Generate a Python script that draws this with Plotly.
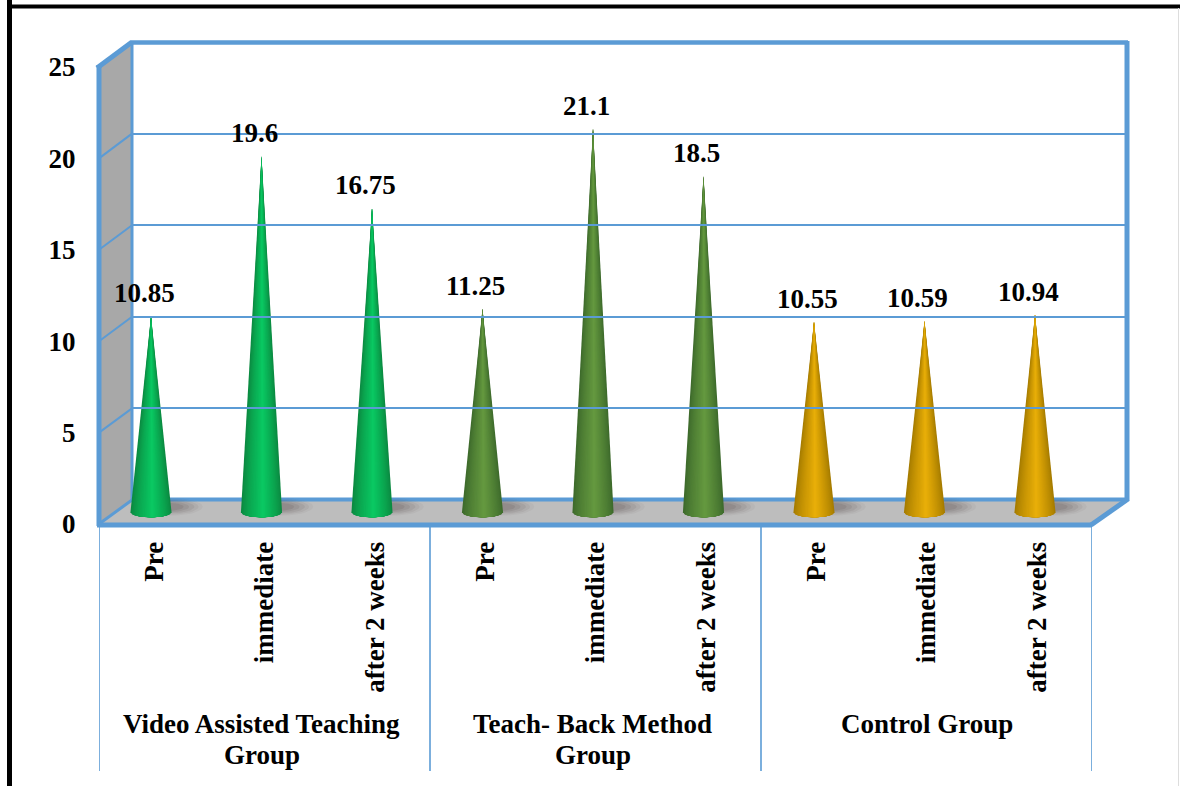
import numpy as np
import plotly.graph_objects as go

# ---- data ----
groups = [["Video Assisted Teaching", "Group"], ["Teach- Back Method", "Group"], ["Control Group"]]
categories = ["Pre", "immediate", "after 2 weeks"] * 3
values = [10.85, 19.6, 16.75, 11.25, 21.1, 18.5, 10.55, 10.59, 10.94]
y_ticks = [0, 5, 10, 15, 20, 25]
group_edge = ["#0b8a41", "#0b8a41", "#0b8a41", "#3e6b2c", "#3e6b2c", "#3e6b2c", "#a67c00", "#a67c00", "#a67c00"]
group_mid = ["#0ac862", "#0ac862", "#0ac862", "#64983f", "#64983f", "#64983f", "#e8ae08", "#e8ae08", "#e8ae08"]

W, H = 1180, 786
BLUE = "#5b9bd5"
FONT = "Liberation Serif"
FS = 27


def fx(px):
    return px / W


def fy(py):
    return 1 - py / H


def mix(a, b, t):
    ca = [int(a[i:i + 2], 16) for i in (1, 3, 5)]
    cb = [int(b[i:i + 2], 16) for i in (1, 3, 5)]
    return "rgb(%d,%d,%d)" % tuple(round(p + (q - p) * t) for p, q in zip(ca, cb))


fig = go.Figure()

# cone geometry, in category / value units of the x2 / y2 axes
HALF_W = 0.186
BASE_Y = 0.12
BASE_H = 0.27
LEVELS = 16

for i, v in enumerate(values):
    # soft floor shadow, thrown to the right of the cone
    for sx, sy, off, a in [(1.6, 0.48, 0.17, 0.05), (1.45, 0.42, 0.16, 0.07), (1.3, 0.36, 0.15, 0.09),
                           (1.15, 0.3, 0.13, 0.10), (1.0, 0.24, 0.11, 0.12)]:
        t = np.linspace(0, 2 * np.pi, 50)
        fig.add_trace(go.Scatter(
            x=i + off + HALF_W * sx * np.cos(t), y=0.42 + sy * np.sin(t),
            xaxis="x2", yaxis="y2", mode="lines", line=dict(width=0),
            fill="toself", fillcolor=f"rgba(70,55,55,{a})", hoverinfo="skip", showlegend=False))
    # cone as nested slivers, shaded from the edge towards a bright centre
    for k in range(LEVELS):
        f = 1 - k / LEVELS
        col = mix(group_edge[i], group_mid[i], (k / (LEVELS - 1)) ** 0.8)
        centre = 0.06 * (1 - f)
        arc = np.linspace(centre - f, centre + f, 24)
        bx = i + HALF_W * arc
        by = BASE_Y - BASE_H * np.sqrt(np.clip(1 - arc ** 2, 0, 1))
        fig.add_trace(go.Scatter(
            x=np.r_[i, bx, i], y=np.r_[v, by, v],
            xaxis="x2", yaxis="y2", mode="lines",
            line=dict(width=0), fill="toself", fillcolor=col,
            hoverinfo="skip", showlegend=False))

# invisible carriers so the labelled axes are drawn
fig.add_trace(go.Scatter(x=list(range(9)), y=values, xaxis="x", yaxis="y", mode="markers",
                         marker=dict(opacity=0), hoverinfo="skip", showlegend=False))
fig.add_trace(go.Scatter(x=[0, 1], y=[0, 25], xaxis="x3", yaxis="y3", mode="markers",
                         marker=dict(opacity=0), hoverinfo="skip", showlegend=False))

# y2 keeps the same px-per-unit as y, with room below zero for cone bases
PX_PER = (524 - 67) / 25
ZERO2 = 514.5
TOP2 = ZERO2 - 25 * PX_PER

shapes = []


def poly(pts, fill):
    path = "M " + " L ".join(f"{fx(x):.5f},{fy(y):.5f}" for x, y in pts) + " Z"
    shapes.append(dict(type="path", path=path, xref="paper", yref="paper", fillcolor=fill,
                       line=dict(width=0), layer="below"))


def seg(x0, y0, x1, y1, width, color=BLUE, layer="above"):
    shapes.append(dict(type="line", xref="paper", yref="paper", x0=fx(x0), y0=fy(y0), x1=fx(x1), y1=fy(y1),
                       line=dict(color=color, width=width), layer=layer))


# page frame
seg(9.5, 0, 9.5, H, 5, "#000000")
seg(7, 6.5, W, 6.5, 4, "#000000")
seg(1178.5, 8, 1178.5, H, 1, "#dddddd")

# side wall and floor
poly([(99, 67), (132, 42), (132, 500), (99, 524)], "#a8a8a8")
poly([(99, 524), (132, 500), (1127, 500), (1092, 524)], "#bdbdbd")

# wall gridlines running to the front
for t in y_ticks[1:-1]:
    back = 500 - t * (500 - 42) / 25
    front = 524 - t * PX_PER
    seg(99, front, 132, back, 2, layer="below")

# frame edges
seg(99, 65, 99, 526, 5, layer="below")
seg(132, 42, 132, 500, 3, layer="below")
seg(97, 68, 132, 42, 5, layer="below")
seg(131, 42.5, 1128, 42.5, 4.5, layer="below")
seg(1127, 41, 1127, 501, 5, layer="below")
seg(132, 499.5, 1127, 499.5, 4, layer="below")
seg(99, 524, 132, 500, 3, layer="below")
seg(1091, 525, 1128, 499, 5, layer="below")
seg(97, 525, 1092, 525, 5, layer="below")

# group separators on the category axis
for c in [-0.5, 2.5, 5.5, 8.5]:
    shapes.append(dict(type="line", xref="x", yref="paper", x0=c, x1=c, y0=fy(526), y1=fy(771),
                       line=dict(color=BLUE, width=1.6), layer="above"))

annotations = []
for i, v in enumerate(values):
    annotations.append(dict(x=i, y=v, xref="x2", yref="y2", xshift=-7, yshift=23, text=f"{v:g}", showarrow=False,
                            xanchor="center", yanchor="middle",
                            font=dict(family=FONT, size=FS, color="#000000", weight="bold")))
for g, (lines, cx) in enumerate(zip(groups, [1, 4, 7])):
    for n, line in enumerate(lines):
        annotations.append(dict(x=cx, y=fy(724 + 31 * n), xref="x", yref="paper", xshift=-3 if g < 2 else 0,
                                text=line, showarrow=False, xanchor="center", yanchor="middle",
                                font=dict(family=FONT, size=FS, color="#000000", weight="bold")))

tick_font = dict(family=FONT, size=FS, color="#000000", weight="bold")
fig.update_layout(
    width=W, height=H, margin=dict(l=0, r=0, t=0, b=0), autosize=False,
    paper_bgcolor="#ffffff", plot_bgcolor="rgba(0,0,0,0)", showlegend=False,
    shapes=shapes, annotations=annotations,
    # labelled front axes
    xaxis=dict(domain=[fx(99), fx(1092)], range=[-0.5, 8.5], tickmode="array", automargin=False,
               tickvals=list(range(9)), ticktext=categories, tickangle=-90, tickfont=tick_font,
               ticks="outside", ticklen=6, tickcolor="rgba(0,0,0,0)", showgrid=False, zeroline=False,
               anchor="y", showline=False),
    yaxis=dict(domain=[fy(524), fy(67)], range=[0, 25], tickmode="array", tickvals=y_ticks, automargin=False,
               tickfont=tick_font, ticks="outside", ticklen=17, tickcolor="rgba(0,0,0,0)",
               showgrid=False, zeroline=False, anchor="x", showline=False),
    # cones
    xaxis2=dict(domain=[fx(151 - 55.25), fx(151 + 8.5 * 110.5)], range=[-0.5, 8.5], visible=False, anchor="y2",
                automargin=False),
    yaxis2=dict(domain=[fy(ZERO2 + 2 * PX_PER), fy(TOP2)], range=[-2, 25], visible=False, anchor="x2",
                automargin=False),
    # back wall gridlines
    xaxis3=dict(domain=[fx(132), fx(1127)], range=[0, 1], visible=False, anchor="y3", automargin=False),
    yaxis3=dict(domain=[fy(500), fy(42)], range=[0, 25], tickmode="array", tickvals=y_ticks[1:-1],
                showticklabels=False, showgrid=True, gridcolor=BLUE, gridwidth=2, zeroline=False,
                showline=False, ticks="", anchor="x3", automargin=False),
)

fig.write_html("out.html", config={"displayModeBar": False},
               post_script="document.body.style.margin='0';document.body.style.overflow='hidden';")
